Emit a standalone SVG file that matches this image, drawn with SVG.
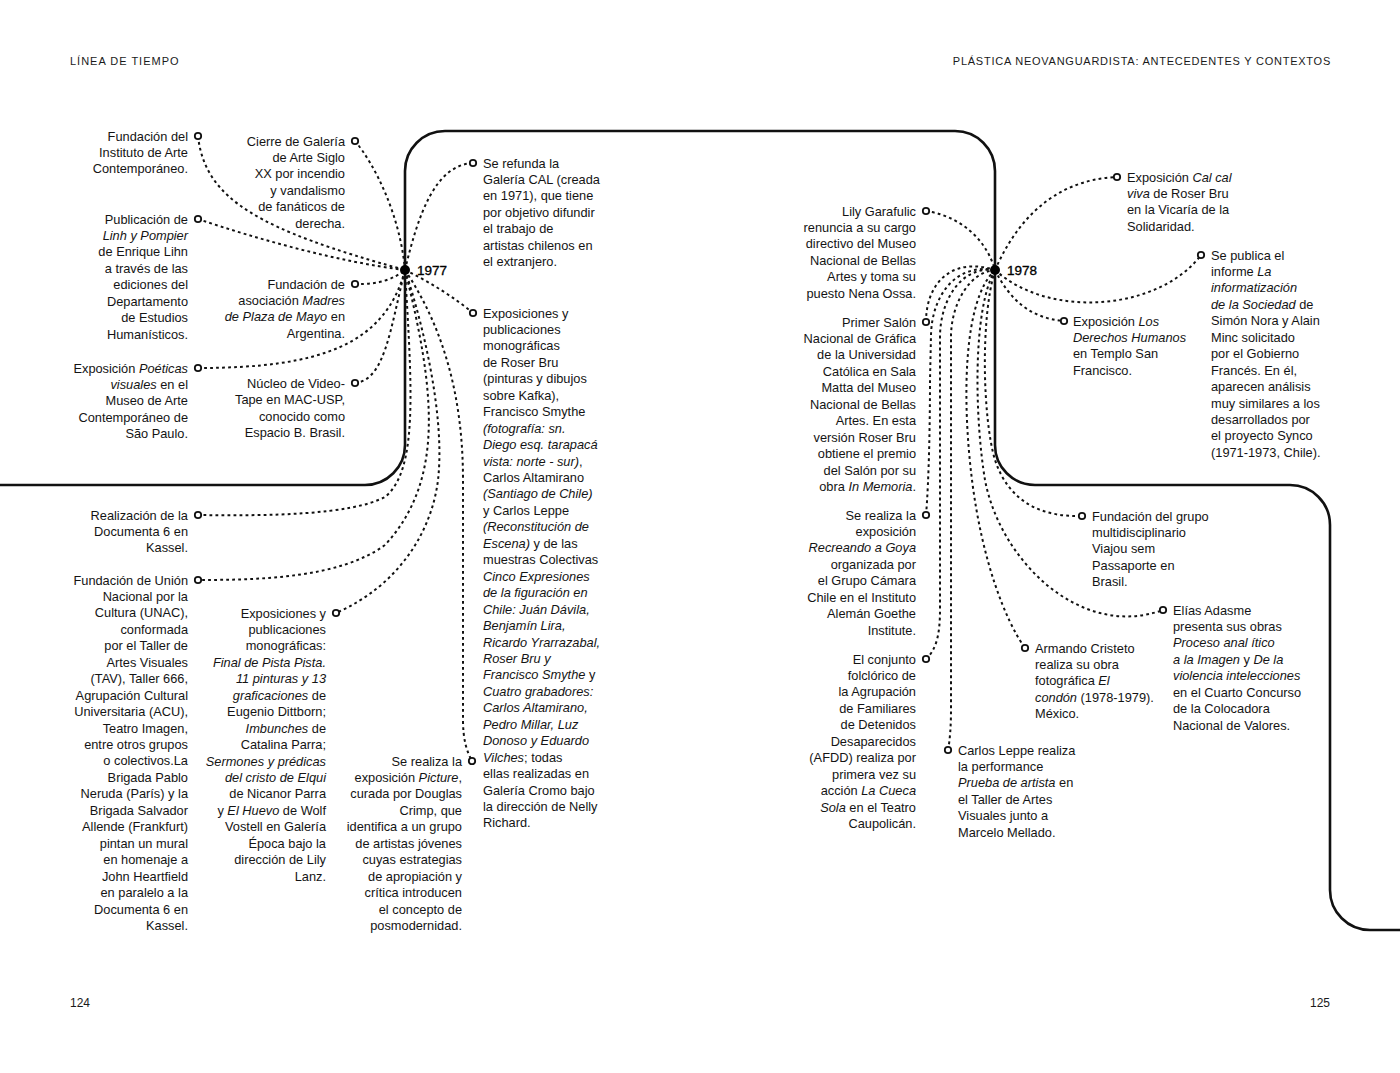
<svg xmlns="http://www.w3.org/2000/svg" width="1400" height="1073" viewBox="0 0 1400 1073">
<style>
.t{font-family:"Liberation Sans",Arial,sans-serif;font-size:12.8px;fill:#141414}
.r{text-anchor:end}
.i{font-style:italic}
.h{font-family:"Liberation Sans",Arial,sans-serif;font-size:11px;letter-spacing:1px;fill:#1a1a1a}
.h2{letter-spacing:0.75px}
.pg{font-family:"Liberation Sans",Arial,sans-serif;font-size:12px;fill:#1a1a1a}
.yr{font-family:"Liberation Sans",Arial,sans-serif;font-size:13.5px;fill:#000;stroke:#000;stroke-width:0.35}
.dot{fill:none;stroke:#111;stroke-width:2;stroke-dasharray:2.8 3.2}
.main{fill:none;stroke:#111;stroke-width:2.6}
.end{fill:#fff;stroke:#111;stroke-width:1.8}
.node{fill:#000}
</style>
<rect width="1400" height="1073" fill="#fff"/>
<g id="header">
<text class="h" x="70" y="65">LÍNEA DE TIEMPO</text>
<text class="h h2 r" x="1331" y="65">PLÁSTICA NEOVANGUARDISTA: ANTECEDENTES Y CONTEXTOS</text>
<text class="pg" x="70" y="1007">124</text>
<text class="pg r" x="1330" y="1007">125</text>
</g>
<path id="timeline" class="main" d="M0,485 L365,485 A40,40 0 0 0 405,445 L405,171 A40,40 0 0 1 445,131 L955,131 A40,40 0 0 1 995,171 L995,445 A40,40 0 0 0 1035,485 L1290,485 A40,40 0 0 1 1330,525 L1330,890 A40,40 0 0 0 1370,930 L1400,930"/>
<g id="connectors">
<path class="dot" d="M198,136 C205,200 260,230 405,270"/>
<path class="dot" d="M198,219 C260,240 340,262 405,270"/>
<path class="dot" d="M198,368 C320,368 385,345 405,270"/>
<path class="dot" d="M355,141 C375,165 400,215 405,270"/>
<path class="dot" d="M355,284 C380,285 395,278 405,270"/>
<path class="dot" d="M355,383 C385,380 390,330 405,270"/>
<path class="dot" d="M405,270 C418,215 435,165 473,163"/>
<path class="dot" d="M405,270 C430,282 455,298 473,313"/>
<path class="dot" d="M405,270 C412,390 418,470 385,497 C350,515 270,516 198,515"/>
<path class="dot" d="M405,270 C435,390 445,480 385,545 C340,578 260,580 198,580"/>
<path class="dot" d="M405,270 C425,330 445,420 438,480 C432,530 400,585 336,613"/>
<path class="dot" d="M405,270 C445,330 463,400 463,480 L463,720 C463,740 467,752 472,761"/>
<path class="dot" d="M926,211 C955,215 985,235 995,270"/>
<path class="dot" d="M926,322 C926,285 950,256 995,270"/>
<path class="dot" d="M926,515 C929,480 930,420 930,380 L931,335 C932,295 956,263 995,270"/>
<path class="dot" d="M926,659 C936,650 940,635 940,610 L940,335 C941,298 962,266 995,270"/>
<path class="dot" d="M948,750 C950,740 951,725 951,710 L951,335 C952,302 970,272 995,270"/>
<path class="dot" d="M995,270 C963,300 962,400 972,480 C982,560 1005,620 1025,648"/>
<path class="dot" d="M995,270 C972,310 975,420 985,480 C1000,560 1080,640 1163,610"/>
<path class="dot" d="M995,270 C980,320 983,420 995,460 C1010,505 1045,517 1082,516"/>
<path class="dot" d="M995,270 C1015,225 1050,180 1117,177"/>
<path class="dot" d="M995,270 C1050,320 1160,310 1201,255"/>
<path class="dot" d="M995,270 C1010,300 1030,318 1064,321"/>
</g>
<g id="y1977">
<circle class="node" cx="405" cy="270" r="5"/>
<text class="yr" x="417" y="275">1977</text>
</g>
<g id="y1978">
<circle class="node" cx="995" cy="270" r="5"/>
<text class="yr" x="1007" y="275">1978</text>
</g>
<g id="n1"><circle class="end" cx="198" cy="136" r="3.2"/>
<text class="t r" x="188" y="140.5"><tspan x="188">Fundación del</tspan><tspan x="188" dy="16.45">Instituto de Arte</tspan><tspan x="188" dy="16.45">Contemporáneo.</tspan></text></g>
<g id="n2"><circle class="end" cx="198" cy="219" r="3.2"/>
<text class="t r" y="223.5"><tspan x="188">Publicación de</tspan><tspan x="188" dy="16.45" class="i">Linh y Pompier</tspan><tspan x="188" dy="16.45">de Enrique Lihn</tspan><tspan x="188" dy="16.45">a través de las</tspan><tspan x="188" dy="16.45">ediciones del</tspan><tspan x="188" dy="16.45">Departamento</tspan><tspan x="188" dy="16.45">de Estudios</tspan><tspan x="188" dy="16.45">Humanísticos.</tspan></text></g>
<g id="n3"><circle class="end" cx="198" cy="368" r="3.2"/>
<text class="t r" y="372.5"><tspan x="188">Exposición <tspan class="i">Poéticas</tspan></tspan><tspan x="188" dy="16.45"><tspan class="i">visuales</tspan> en el</tspan><tspan x="188" dy="16.45">Museo de Arte</tspan><tspan x="188" dy="16.45">Contemporáneo de</tspan><tspan x="188" dy="16.45">São Paulo.</tspan></text></g>
<g id="n4"><circle class="end" cx="355" cy="141" r="3.2"/>
<text class="t r" y="145.5"><tspan x="345">Cierre de Galería</tspan><tspan x="345" dy="16.45">de Arte Siglo</tspan><tspan x="345" dy="16.45">XX por incendio</tspan><tspan x="345" dy="16.45">y vandalismo</tspan><tspan x="345" dy="16.45">de fanáticos de</tspan><tspan x="345" dy="16.45">derecha.</tspan></text></g>
<g id="n5"><circle class="end" cx="355" cy="284" r="3.2"/>
<text class="t r" y="288.5"><tspan x="345">Fundación de</tspan><tspan x="345" dy="16.45">asociación <tspan class="i">Madres</tspan></tspan><tspan x="345" dy="16.45"><tspan class="i">de Plaza de Mayo</tspan> en</tspan><tspan x="345" dy="16.45">Argentina.</tspan></text></g>
<g id="n6"><circle class="end" cx="355" cy="383" r="3.2"/>
<text class="t r" y="388"><tspan x="345">Núcleo de Video-</tspan><tspan x="345" dy="16.45">Tape en MAC-USP,</tspan><tspan x="345" dy="16.45">conocido como</tspan><tspan x="345" dy="16.45">Espacio B. Brasil.</tspan></text></g>
<g id="n7"><circle class="end" cx="473" cy="163" r="3.2"/>
<text class="t" y="167.5"><tspan x="483">Se refunda la</tspan><tspan x="483" dy="16.45">Galería CAL (creada</tspan><tspan x="483" dy="16.45">en 1971), que tiene</tspan><tspan x="483" dy="16.45">por objetivo difundir</tspan><tspan x="483" dy="16.45">el trabajo de</tspan><tspan x="483" dy="16.45">artistas chilenos en</tspan><tspan x="483" dy="16.45">el extranjero.</tspan></text></g>
<g id="n8"><circle class="end" cx="473" cy="313" r="3.2"/>
<text class="t" y="317.5"><tspan x="483">Exposiciones y</tspan><tspan x="483" dy="16.45">publicaciones</tspan><tspan x="483" dy="16.45">monográficas</tspan><tspan x="483" dy="16.45">de Roser Bru</tspan><tspan x="483" dy="16.45">(pinturas y dibujos</tspan><tspan x="483" dy="16.45">sobre Kafka),</tspan><tspan x="483" dy="16.45">Francisco Smythe</tspan><tspan x="483" dy="16.45" class="i">(fotografía: sn.</tspan><tspan x="483" dy="16.45" class="i">Diego esq. tarapacá</tspan><tspan x="483" dy="16.45"><tspan class="i">vista: norte - sur)</tspan>,</tspan><tspan x="483" dy="16.45">Carlos Altamirano</tspan><tspan x="483" dy="16.45" class="i">(Santiago de Chile)</tspan><tspan x="483" dy="16.45">y Carlos Leppe</tspan><tspan x="483" dy="16.45" class="i">(Reconstitución de</tspan><tspan x="483" dy="16.45"><tspan class="i">Escena)</tspan> y de las</tspan><tspan x="483" dy="16.45">muestras Colectivas</tspan><tspan x="483" dy="16.45" class="i">Cinco Expresiones</tspan><tspan x="483" dy="16.45" class="i">de la figuración en</tspan><tspan x="483" dy="16.45" class="i">Chile: Juán Dávila,</tspan><tspan x="483" dy="16.45" class="i">Benjamín Lira,</tspan><tspan x="483" dy="16.45" class="i">Ricardo Yrarrazabal,</tspan><tspan x="483" dy="16.45" class="i">Roser Bru y</tspan><tspan x="483" dy="16.45"><tspan class="i">Francisco Smythe</tspan> y</tspan><tspan x="483" dy="16.45" class="i">Cuatro grabadores:</tspan><tspan x="483" dy="16.45" class="i">Carlos Altamirano,</tspan><tspan x="483" dy="16.45" class="i">Pedro Millar, Luz</tspan><tspan x="483" dy="16.45" class="i">Donoso y Eduardo</tspan><tspan x="483" dy="16.45"><tspan class="i">Vilches</tspan>; todas</tspan><tspan x="483" dy="16.45">ellas realizadas en</tspan><tspan x="483" dy="16.45">Galería Cromo bajo</tspan><tspan x="483" dy="16.45">la dirección de Nelly</tspan><tspan x="483" dy="16.45">Richard.</tspan></text></g>
<g id="n9"><circle class="end" cx="198" cy="515" r="3.2"/>
<text class="t r" y="519.5"><tspan x="188">Realización de la</tspan><tspan x="188" dy="16.45">Documenta 6 en</tspan><tspan x="188" dy="16.45">Kassel.</tspan></text></g>
<g id="n10"><circle class="end" cx="198" cy="580" r="3.2"/>
<text class="t r" y="584.5"><tspan x="188">Fundación de Unión</tspan><tspan x="188" dy="16.45">Nacional por la</tspan><tspan x="188" dy="16.45">Cultura (UNAC),</tspan><tspan x="188" dy="16.45">conformada</tspan><tspan x="188" dy="16.45">por el Taller de</tspan><tspan x="188" dy="16.45">Artes Visuales</tspan><tspan x="188" dy="16.45">(TAV), Taller 666,</tspan><tspan x="188" dy="16.45">Agrupación Cultural</tspan><tspan x="188" dy="16.45">Universitaria (ACU),</tspan><tspan x="188" dy="16.45">Teatro Imagen,</tspan><tspan x="188" dy="16.45">entre otros grupos</tspan><tspan x="188" dy="16.45">o colectivos.La</tspan><tspan x="188" dy="16.45">Brigada Pablo</tspan><tspan x="188" dy="16.45">Neruda (París) y la</tspan><tspan x="188" dy="16.45">Brigada Salvador</tspan><tspan x="188" dy="16.45">Allende (Frankfurt)</tspan><tspan x="188" dy="16.45">pintan un mural</tspan><tspan x="188" dy="16.45">en homenaje a</tspan><tspan x="188" dy="16.45">John Heartfield</tspan><tspan x="188" dy="16.45">en paralelo a la</tspan><tspan x="188" dy="16.45">Documenta 6 en</tspan><tspan x="188" dy="16.45">Kassel.</tspan></text></g>
<g id="n11"><circle class="end" cx="336" cy="613" r="3.2"/>
<text class="t r" y="617.5"><tspan x="326">Exposiciones y</tspan><tspan x="326" dy="16.45">publicaciones</tspan><tspan x="326" dy="16.45">monográficas:</tspan><tspan x="326" dy="16.45" class="i">Final de Pista Pista.</tspan><tspan x="326" dy="16.45" class="i">11 pinturas y 13</tspan><tspan x="326" dy="16.45"><tspan class="i">graficaciones</tspan> de</tspan><tspan x="326" dy="16.45">Eugenio Dittborn;</tspan><tspan x="326" dy="16.45"><tspan class="i">Imbunches</tspan> de</tspan><tspan x="326" dy="16.45">Catalina Parra;</tspan><tspan x="326" dy="16.45" class="i">Sermones y prédicas</tspan><tspan x="326" dy="16.45" class="i">del cristo de Elqui</tspan><tspan x="326" dy="16.45">de Nicanor Parra</tspan><tspan x="326" dy="16.45">y <tspan class="i">El Huevo</tspan> de Wolf</tspan><tspan x="326" dy="16.45">Vostell en Galería</tspan><tspan x="326" dy="16.45">Época bajo la</tspan><tspan x="326" dy="16.45">dirección de Lily</tspan><tspan x="326" dy="16.45">Lanz.</tspan></text></g>
<g id="n12"><circle class="end" cx="472" cy="761" r="3.2"/>
<text class="t r" y="765.5"><tspan x="462">Se realiza la</tspan><tspan x="462" dy="16.45">exposición <tspan class="i">Picture</tspan>,</tspan><tspan x="462" dy="16.45">curada por Douglas</tspan><tspan x="462" dy="16.45">Crimp, que</tspan><tspan x="462" dy="16.45">identifica a un grupo</tspan><tspan x="462" dy="16.45">de artistas jóvenes</tspan><tspan x="462" dy="16.45">cuyas estrategias</tspan><tspan x="462" dy="16.45">de apropiación y</tspan><tspan x="462" dy="16.45">crítica introducen</tspan><tspan x="462" dy="16.45">el concepto de</tspan><tspan x="462" dy="16.45">posmodernidad.</tspan></text></g>
<g id="n13"><circle class="end" cx="926" cy="211" r="3.2"/>
<text class="t r" y="215.5"><tspan x="916">Lily Garafulic</tspan><tspan x="916" dy="16.45">renuncia a su cargo</tspan><tspan x="916" dy="16.45">directivo del Museo</tspan><tspan x="916" dy="16.45">Nacional de Bellas</tspan><tspan x="916" dy="16.45">Artes y toma su</tspan><tspan x="916" dy="16.45">puesto Nena Ossa.</tspan></text></g>
<g id="n14"><circle class="end" cx="926" cy="322" r="3.2"/>
<text class="t r" y="326.5"><tspan x="916">Primer Salón</tspan><tspan x="916" dy="16.45">Nacional de Gráfica</tspan><tspan x="916" dy="16.45">de la Universidad</tspan><tspan x="916" dy="16.45">Católica en Sala</tspan><tspan x="916" dy="16.45">Matta del Museo</tspan><tspan x="916" dy="16.45">Nacional de Bellas</tspan><tspan x="916" dy="16.45">Artes. En esta</tspan><tspan x="916" dy="16.45">versión Roser Bru</tspan><tspan x="916" dy="16.45">obtiene el premio</tspan><tspan x="916" dy="16.45">del Salón por su</tspan><tspan x="916" dy="16.45">obra <tspan class="i">In Memoria</tspan>.</tspan></text></g>
<g id="n15"><circle class="end" cx="926" cy="515" r="3.2"/>
<text class="t r" y="519.5"><tspan x="916">Se realiza la</tspan><tspan x="916" dy="16.45">exposición</tspan><tspan x="916" dy="16.45" class="i">Recreando a Goya</tspan><tspan x="916" dy="16.45">organizada por</tspan><tspan x="916" dy="16.45">el Grupo Cámara</tspan><tspan x="916" dy="16.45">Chile en el Instituto</tspan><tspan x="916" dy="16.45">Alemán Goethe</tspan><tspan x="916" dy="16.45">Institute.</tspan></text></g>
<g id="n16"><circle class="end" cx="926" cy="659" r="3.2"/>
<text class="t r" y="663.5"><tspan x="916">El conjunto</tspan><tspan x="916" dy="16.45">folclórico de</tspan><tspan x="916" dy="16.45">la Agrupación</tspan><tspan x="916" dy="16.45">de Familiares</tspan><tspan x="916" dy="16.45">de Detenidos</tspan><tspan x="916" dy="16.45">Desaparecidos</tspan><tspan x="916" dy="16.45">(AFDD) realiza por</tspan><tspan x="916" dy="16.45">primera vez su</tspan><tspan x="916" dy="16.45">acción <tspan class="i">La Cueca</tspan></tspan><tspan x="916" dy="16.45"><tspan class="i">Sola</tspan> en el Teatro</tspan><tspan x="916" dy="16.45">Caupolicán.</tspan></text></g>
<g id="n17"><circle class="end" cx="948" cy="750" r="3.2"/>
<text class="t" y="754.5"><tspan x="958">Carlos Leppe realiza</tspan><tspan x="958" dy="16.45">la performance</tspan><tspan x="958" dy="16.45"><tspan class="i">Prueba de artista</tspan> en</tspan><tspan x="958" dy="16.45">el Taller de Artes</tspan><tspan x="958" dy="16.45">Visuales junto a</tspan><tspan x="958" dy="16.45">Marcelo Mellado.</tspan></text></g>
<g id="n18"><circle class="end" cx="1025" cy="648" r="3.2"/>
<text class="t" y="652.5"><tspan x="1035">Armando Cristeto</tspan><tspan x="1035" dy="16.45">realiza su obra</tspan><tspan x="1035" dy="16.45">fotográfica <tspan class="i">El</tspan></tspan><tspan x="1035" dy="16.45"><tspan class="i">condón</tspan> (1978-1979).</tspan><tspan x="1035" dy="16.45">México.</tspan></text></g>
<g id="n19"><circle class="end" cx="1082" cy="516" r="3.2"/>
<text class="t" y="520.5"><tspan x="1092">Fundación del grupo</tspan><tspan x="1092" dy="16.45">multidisciplinario</tspan><tspan x="1092" dy="16.45">Viajou sem</tspan><tspan x="1092" dy="16.45">Passaporte en</tspan><tspan x="1092" dy="16.45">Brasil.</tspan></text></g>
<g id="n20"><circle class="end" cx="1163" cy="610" r="3.2"/>
<text class="t" y="614.5"><tspan x="1173">Elías Adasme</tspan><tspan x="1173" dy="16.45">presenta sus obras</tspan><tspan x="1173" dy="16.45" class="i">Proceso anal ítico</tspan><tspan x="1173" dy="16.45"><tspan class="i">a la Imagen</tspan> y <tspan class="i">De la</tspan></tspan><tspan x="1173" dy="16.45" class="i">violencia intelecciones</tspan><tspan x="1173" dy="16.45">en el Cuarto Concurso</tspan><tspan x="1173" dy="16.45">de la Colocadora</tspan><tspan x="1173" dy="16.45">Nacional de Valores.</tspan></text></g>
<g id="n21"><circle class="end" cx="1117" cy="177" r="3.2"/>
<text class="t" y="181.5"><tspan x="1127">Exposición <tspan class="i">Cal cal</tspan></tspan><tspan x="1127" dy="16.45"><tspan class="i">viva</tspan> de Roser Bru</tspan><tspan x="1127" dy="16.45">en la Vicaría de la</tspan><tspan x="1127" dy="16.45">Solidaridad.</tspan></text></g>
<g id="n22"><circle class="end" cx="1201" cy="255" r="3.2"/>
<text class="t" y="259.5"><tspan x="1211">Se publica el</tspan><tspan x="1211" dy="16.45">informe <tspan class="i">La</tspan></tspan><tspan x="1211" dy="16.45" class="i">informatización</tspan><tspan x="1211" dy="16.45"><tspan class="i">de la Sociedad</tspan> de</tspan><tspan x="1211" dy="16.45">Simón Nora y Alain</tspan><tspan x="1211" dy="16.45">Minc solicitado</tspan><tspan x="1211" dy="16.45">por el Gobierno</tspan><tspan x="1211" dy="16.45">Francés. En él,</tspan><tspan x="1211" dy="16.45">aparecen análisis</tspan><tspan x="1211" dy="16.45">muy similares a los</tspan><tspan x="1211" dy="16.45">desarrollados por</tspan><tspan x="1211" dy="16.45">el proyecto Synco</tspan><tspan x="1211" dy="16.45">(1971-1973, Chile).</tspan></text></g>
<g id="n23"><circle class="end" cx="1064" cy="321" r="3.2"/>
<text class="t" y="325.5"><tspan x="1073">Exposición <tspan class="i">Los</tspan></tspan><tspan x="1073" dy="16.45" class="i">Derechos Humanos</tspan><tspan x="1073" dy="16.45">en Templo San</tspan><tspan x="1073" dy="16.45">Francisco.</tspan></text></g>
</svg>
